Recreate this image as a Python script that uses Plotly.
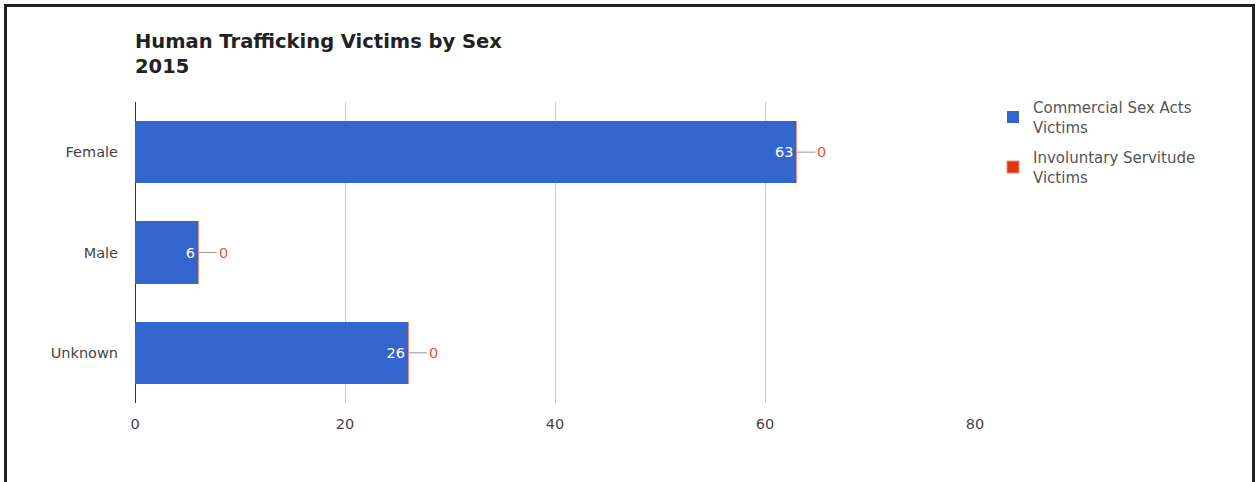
import plotly.graph_objects as go

categories = ["Female", "Male", "Unknown"]
commercial = [63, 6, 26]
involuntary = [0, 0, 0]
series_names = ["Commercial Sex Acts<br>Victims", "Involuntary Servitude<br>Victims"]
x_ticks = [0, 20, 40, 60, 80]

W, H = 1257, 482
ML, MR, MT, MB = 135, 282, 102, 79
PW, PH = W - ML - MR, H - MT - MB

BLUE = "#3366cc"
RED = "#dc3912"
FONT = "DejaVu Sans, Verdana, sans-serif"

fig = go.Figure()
fig.add_trace(go.Bar(
    y=categories, x=commercial, orientation="h", name=series_names[0],
    legendgroup="a",
    marker=dict(color=BLUE, line=dict(width=0)),
    text=[str(v) for v in commercial], textposition="inside",
    insidetextanchor="end", textangle=0,
    textfont=dict(color="white", size=14.5, family=FONT),
    width=0.62,
))
fig.add_trace(go.Bar(
    y=categories, x=involuntary, orientation="h", name=series_names[1],
    legendgroup="b",
    marker=dict(color=RED, line=dict(color="#f08a78", width=1)),
    width=0.62,
))

for cat, c, v in zip(categories, commercial, involuntary):
    fig.add_annotation(
        x=c + v, y=cat, text=str(v), showarrow=True, arrowhead=0,
        arrowwidth=1, arrowcolor="#999999", ax=25, ay=0, standoff=1,
        font=dict(color="#e8553a", size=14.5, family=FONT),
    )

# outer frame
fig.add_shape(
    type="rect", xref="paper", yref="paper",
    x0=(5.5 - ML) / PW, x1=(1253.5 - ML) / PW,
    y0=(H - MB - 520) / PH, y1=(H - MB - 5.5) / PH,
    line=dict(color="#222222", width=3), fillcolor="rgba(0,0,0,0)",
    layer="above",
)

fig.update_layout(
    width=W, height=H,
    margin=dict(l=ML, r=MR, t=MT, b=MB),
    barmode="stack",
    plot_bgcolor="white", paper_bgcolor="white",
    font=dict(family=FONT, size=14.5, color="#444444"),
    title=dict(
        text="<b>Human Trafficking Victims by Sex<br>2015</b>",
        x=0, xref="paper", xanchor="left",
        y=1 - 48 / H, yref="container", yanchor="top",
        font=dict(family=FONT, size=19.5, color="#222222"),
    ),
    legend=dict(
        x=(993 - ML) / PW, y=1 + 11 / PH, xanchor="left", yanchor="top",
        font=dict(family=FONT, size=15, color="#555555"),
        traceorder="grouped", itemwidth=30, tracegroupgap=8,
    ),
    xaxis=dict(
        range=[0, 80], tickvals=x_ticks, showgrid=True, gridcolor="#cccccc",
        zeroline=True, zerolinecolor="#333333", zerolinewidth=1,
        showline=False, ticks="", tickfont=dict(size=14.5, color="#444444"),
        ticklabelstandoff=10, fixedrange=True,
    ),
    yaxis=dict(
        categoryorder="array", categoryarray=categories, autorange="reversed",
        showgrid=False, ticks="", showline=False,
        tickfont=dict(size=14.5, color="#444444"), ticklabelstandoff=16,
    ),
)

fig.write_html(
    "out.html",
    config={"displayModeBar": False},
    post_script="document.body.style.margin='0';",
)
